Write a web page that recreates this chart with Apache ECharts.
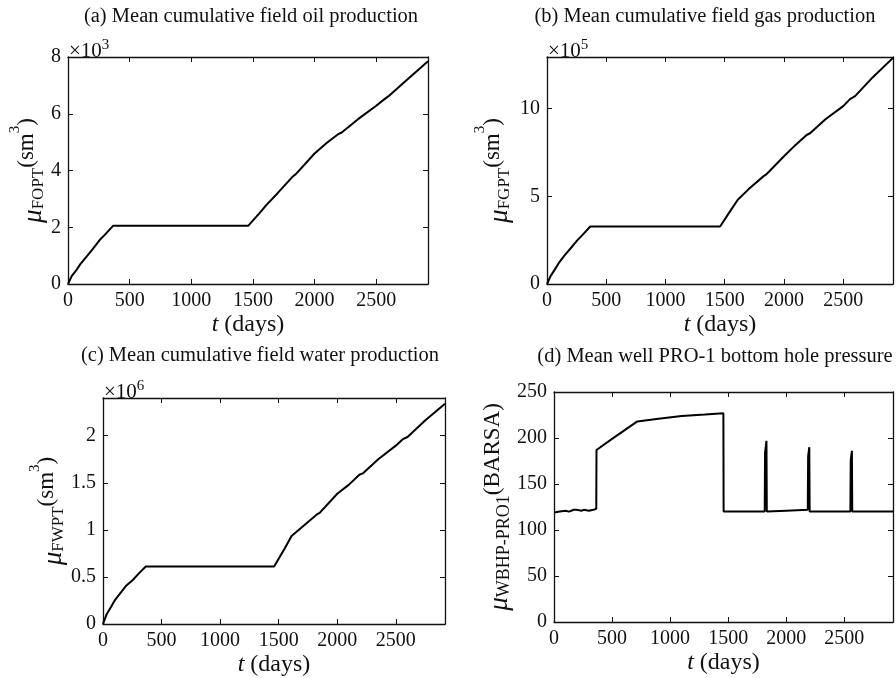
<!DOCTYPE html>
<html><head><meta charset="utf-8">
<script src="https://cdn.jsdelivr.net/npm/echarts@6/dist/echarts.min.js"></script>
<style>html,body{margin:0;padding:0;background:#fff;overflow:hidden}#c{width:896px;height:678px}</style>
</head><body><div id="c"></div>
<script>
// ---- data ----
const oilT = [0,30,68,100,149,200,257,300,365,1461,1550,1610,1700,1826,1850,2000,2100,2191,2220,2350,2500,2557,2600,2750,2920];
const oilV = [0,280,490,700,960,1230,1550,1740,2050,2050,2480,2790,3200,3800,3880,4600,4980,5280,5340,5800,6280,6480,6620,7200,7850];
const gasT = [0,30,68,100,150,200,257,300,365,1461,1550,1610,1700,1826,1850,2000,2100,2191,2220,2350,2500,2557,2600,2750,2920];
const gasV = [0,0.45e5,0.85e5,1.2e5,1.65e5,2.04e5,2.5e5,2.8e5,3.28e5,3.28e5,4.2e5,4.81e5,5.4e5,6.14e5,6.25e5,7.29e5,7.95e5,8.5e5,8.6e5,9.4e5,10.15e5,10.55e5,10.72e5,11.8e5,12.9e5];
const watT = [0,30,68,100,150,200,257,300,365,1461,1550,1610,1700,1826,1850,2000,2100,2191,2220,2350,2500,2557,2600,2750,2920];
const watV = [0,0.1e6,0.18e6,0.25e6,0.33e6,0.41e6,0.47e6,0.53e6,0.61e6,0.61e6,0.8e6,0.934e6,1.03e6,1.164e6,1.18e6,1.383e6,1.48e6,1.587e6,1.6e6,1.75e6,1.894e6,1.96e6,1.986e6,2.16e6,2.34e6];
const bhpT = [0,50,100,130,170,190,200,240,260,270,300,340,364,366,500,718,900,1100,1300,1459,1461,1815,1818,1830,1833,2000,2186,2189,2199,2202,2553,2556,2566,2569,2920];
const bhpV = [119,120,121,120,122,122,120,121,122,120,121,122,123,187,199,218,221,224,225.5,227,120,120,184,197,120,121,122,180,190,120,120,176,186,120,120];
const xTicks = [0,500,1000,1500,2000,2500];
const titles = ['(a) Mean cumulative field oil production','(b) Mean cumulative field gas production','(c) Mean cumulative field water production','(d) Mean well PRO-1 bottom hole pressure'];
const subs = ['FOPT','FGPT','FWPT','WBHP-PRO1'];
const exps = ['3','5','6',null];

const zip = (a,b)=>a.map((v,i)=>[v,b[i]]);
const FONT = '"Liberation Serif","Times New Roman",serif';
const COL = '#111';

const panels = [
  {grid:{left:68,top:57,width:360,height:227}, ymax:8000, yint:2000, scale:1e3, data:zip(oilT,oilV), gap:19},
  {grid:{left:547,top:57,width:350,height:227}, ymax:1.295e6, yint:5e5, scale:1e5, data:zip(gasT,gasV), gap:34},
  {grid:{left:103,top:398,width:342,height:227}, ymax:2.4e6, yint:5e5, scale:1e6, data:zip(watT,watV), gap:33},
  {grid:{left:554,top:392,width:348,height:230}, ymax:250, yint:50, scale:1, data:zip(bhpT,bhpV), gap:39}
];

const grid=[], xAxis=[], yAxis=[], series=[], graphic=[];
panels.forEach((p,i)=>{
  grid.push(p.grid);
  const line = {show:true, onZero:false, lineStyle:{color:COL,width:1.3}};
  const tick = {show:true, inside:true, length:5, lineStyle:{color:COL,width:1}};
  const base = {min:0, max:2920, interval:500, gridIndex:i, type:'value', splitLine:{show:false}, axisLine:line, axisTick:tick};
  xAxis.push(Object.assign({}, base, {position:'bottom',
    axisLabel:{color:COL, fontFamily:FONT, fontSize:20, margin:7, formatter:v=> xTicks.includes(v)? String(v):''},
    name:'{it|t} (days)', nameLocation:'middle', nameGap:29,
    nameTextStyle:{color:COL, fontFamily:FONT, fontSize:24, rich:{it:{fontStyle:'italic',fontFamily:FONT,fontSize:24,color:COL}}}}));
  xAxis.push(Object.assign({}, base, {position:'top', axisLabel:{show:false}}));
  const ybase = {min:0, max:p.ymax, interval:p.yint, gridIndex:i, type:'value', splitLine:{show:false}, axisLine:line, axisTick:tick};
  const unit = i===3 ? '{par|(BARSA)}' : '{par|(sm}{sup|3}{par|)}';
  yAxis.push(Object.assign({}, ybase, {position:'left',
    axisLabel:{color:COL, fontFamily:FONT, fontSize:20, margin:7,
      formatter:v=>{ const k=Math.round(v/p.yint); if (Math.abs(v-k*p.yint)>1e-6*p.yint) return ''; return String(+(v/p.scale).toFixed(3)); }},
    name:'{mu|μ}{sub|'+subs[i]+'}'+unit, nameLocation:'middle', nameGap:p.gap, nameRotate:90,
    nameTextStyle:{color:COL, fontFamily:FONT, fontSize:23, rich:{
      mu:{fontStyle:'italic', fontFamily:FONT, fontSize:27, color:COL, lineHeight:30, verticalAlign:'bottom'},
      sub:{fontFamily:FONT, fontSize:i===3?18:17, color:COL, lineHeight:23, verticalAlign:'bottom'},
      par:{fontFamily:FONT, fontSize:23, color:COL, lineHeight:40, verticalAlign:'middle'},
      sup:{fontFamily:FONT, fontSize:15, color:COL, lineHeight:26, verticalAlign:'top'}}}}));
  yAxis.push(Object.assign({}, ybase, {position:'right', axisLabel:{show:false}}));
  series.push({type:'line', xAxisIndex:2*i, yAxisIndex:2*i, data:p.data, showSymbol:false, symbol:'none',
    lineStyle:{color:'#000', width:2}, animation:false});
  const g=p.grid;
  graphic.push({type:'text', x:[251,705,260,715][i], y:[17,17,356,357][i],
    style:{text:titles[i], fill:COL, font:'20.5px '+FONT, align:'center', verticalAlign:'middle'}});
  if (exps[i]) {
    graphic.push({type:'text', x:g.left+1, y:g.top-7,
      style:{text:'{m|×10}{s|'+exps[i]+'}', fill:COL, align:'left', verticalAlign:'middle',
        rich:{m:{font:'21px '+FONT, fill:COL, lineHeight:24, verticalAlign:'bottom'}, s:{font:'15px '+FONT, fill:COL, lineHeight:14, verticalAlign:'top'}}}});
  }
});

const chart = echarts.init(document.getElementById('c'), null, {renderer:'canvas'});
chart.setOption({backgroundColor:'#fff', animation:false, grid, xAxis, yAxis, series, graphic});
</script></body></html>
